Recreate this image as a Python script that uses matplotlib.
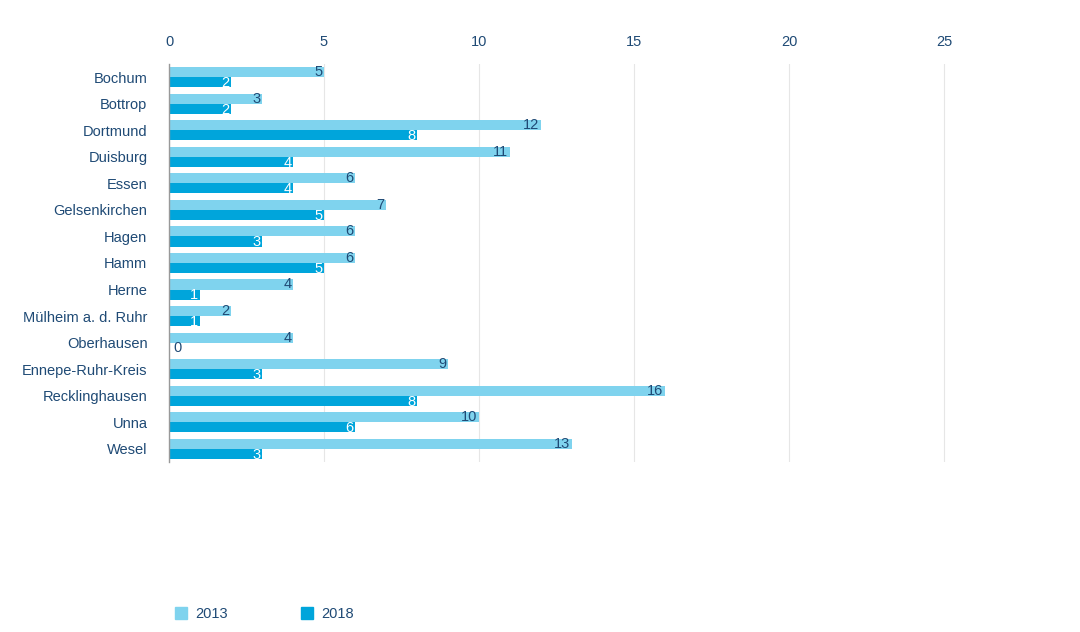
import matplotlib
matplotlib.use("Agg")
import matplotlib.pyplot as plt
from matplotlib.patches import Patch
import numpy as np

cities = ["Bochum", "Bottrop", "Dortmund", "Duisburg", "Essen", "Gelsenkirchen", "Hagen",
          "Hamm", "Herne", "Mülheim a. d. Ruhr", "Oberhausen", "Ennepe-Ruhr-Kreis",
          "Recklinghausen", "Unna", "Wesel"]
v2013 = [5, 3, 12, 11, 6, 7, 6, 6, 4, 2, 4, 9, 16, 10, 13]
v2018 = [2, 2, 8, 4, 4, 5, 3, 5, 1, 1, 0, 3, 8, 6, 3]
series_names = ["2013", "2018"]
xticks = [0, 5, 10, 15, 20, 25]

c13 = "#7fd3ee"
c18 = "#00a5db"
txt = "#1f4a75"

plt.rcParams['font.family'] = ['Liberation Sans', 'DejaVu Sans']

fig = plt.figure(figsize=(10.8, 6.32), dpi=100)
ax = fig.add_axes([169/1080, 1-462/632, (1037-169)/1080, (462-64)/632])

y = np.arange(len(cities))
h = 0.38
ax.barh(y - h/2, v2013, height=h, color=c13, zorder=2)
ax.barh(y + h/2, v2018, height=h, color=c18, zorder=2)

fs = 10.5
for yi, v in zip(y, v2013):
    if v > 0:
        ax.text(v - 0.05, yi - h/2, str(v), ha="right", va="center", fontsize=fs, color=txt, zorder=3)
    else:
        ax.text(0.15, yi - h/2, "0", ha="left", va="center", fontsize=fs, color=txt, zorder=3)
for yi, v in zip(y, v2018):
    if v > 0:
        ax.text(v - 0.05, yi + h/2 + 0.03, str(v), ha="right", va="center", fontsize=fs, color="white", zorder=3)
    else:
        ax.text(0.15, yi + h/2 + 0.03, "0", ha="left", va="center", fontsize=fs, color=txt, zorder=3)

ax.set_xlim(0, 28)
ax.set_ylim(14.5, -0.5)
ax.set_xticks(xticks)
ax.xaxis.tick_top()
ax.tick_params(axis="x", length=0, pad=11, labelsize=fs, labelcolor=txt)
ax.set_yticks(y)
ax.set_yticklabels(cities)
ax.tick_params(axis="y", length=0, pad=15.5, labelsize=fs, labelcolor=txt)
ax.grid(axis="x", color="#e6e6e6", linewidth=0.8, zorder=0)
for s in ["top", "right", "bottom"]:
    ax.spines[s].set_visible(False)
ax.spines["left"].set_color("#999999")
ax.spines["left"].set_linewidth(1)
ax.spines["left"].set_zorder(4)

handles = [Patch(color=c13), Patch(color=c18)]
fig.legend(handles, series_names, loc="center left", bbox_to_anchor=(175/1080, 1-614/632), ncol=2,
           frameon=False, fontsize=fs, labelcolor=txt, handlelength=0.8, handleheight=0.8,
           columnspacing=5.0, handletextpad=0.6, borderpad=0, borderaxespad=0)

fig.savefig("out.png", dpi=100)
